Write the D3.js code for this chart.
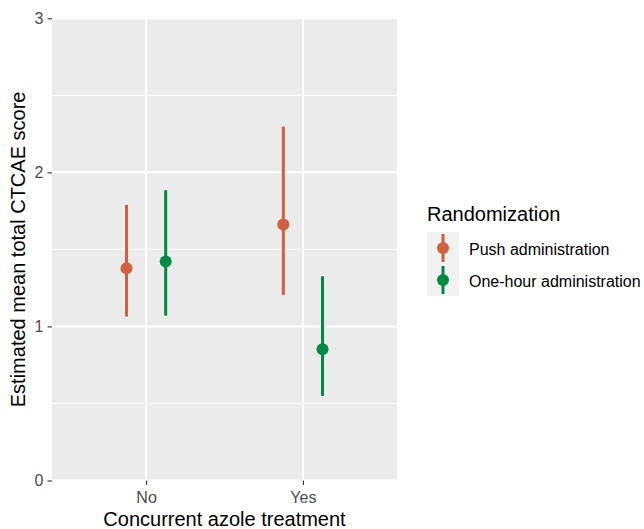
<!DOCTYPE html>
<html>
<head>
<meta charset="utf-8">
<script src="https://cdn.jsdelivr.net/npm/d3@7"></script>
<style>
  body { margin: 0; background: #fff; }
  text { font-family: Arial, "Liberation Sans", sans-serif; }
</style>
</head>
<body>
<svg id="chart" width="644" height="529"></svg>
<script>
// data
var groups = ["No", "Yes"];
var arms = ["Push administration", "One-hour administration"];
var armColors = ["#D0603F", "#008A42"];
var estimates = [1.378, 1.421, 1.661, 0.852];   // No/Push, No/One-hour, Yes/Push, Yes/One-hour
var lower = [1.064, 1.070, 1.205, 0.549];
var upper = [1.789, 1.884, 2.297, 1.326];
var yTicks = [0, 1, 2, 3];
var yMinor = [0.5, 1.5, 2.5];

var rows = [];
groups.forEach(function(g, gi){
    arms.forEach(function(a, ai){
	var k = gi * arms.length + ai;
	rows.push({group: g, arm: a, est: estimates[k], lo: lower[k], hi: upper[k]});
    });
});

var svg = d3.select("#chart");
var panel = {left: 52, top: 18.3, right: 397, bottom: 480.5};

var y = d3.scaleLinear().domain([0, 3]).range([panel.bottom, panel.top]);
// discrete axis with ggplot style 0.6 expansion
var xc = d3.scalePoint().domain(groups).range([panel.left, panel.right]).padding(0.6);
var step = xc.step();
var dodge = d3.scalePoint().domain(arms).range([-0.125 * step, 0.125 * step]);
var color = d3.scaleOrdinal().domain(arms).range(armColors);

// panel background
svg.append("rect")
    .attr("x", panel.left).attr("y", panel.top)
    .attr("width", panel.right - panel.left).attr("height", panel.bottom - panel.top)
    .attr("fill", "#EBEBEB");

var grid = svg.append("g");
grid.selectAll(".minor").data(yMinor).enter().append("line")
    .attr("x1", panel.left).attr("x2", panel.right)
    .attr("y1", function(d){ return y(d); }).attr("y2", function(d){ return y(d); })
    .attr("stroke", "#fff").attr("stroke-width", 1);
grid.selectAll(".major").data(yTicks).enter().append("line")
    .attr("x1", panel.left).attr("x2", panel.right)
    .attr("y1", function(d){ return y(d); }).attr("y2", function(d){ return y(d); })
    .attr("stroke", "#fff").attr("stroke-width", 2);
grid.selectAll(".vmajor").data(groups).enter().append("line")
    .attr("x1", function(d){ return xc(d); }).attr("x2", function(d){ return xc(d); })
    .attr("y1", panel.top).attr("y2", panel.bottom)
    .attr("stroke", "#fff").attr("stroke-width", 2);

// axes
var yAxis = d3.axisLeft(y).tickValues(yTicks).tickFormat(d3.format("d")).tickSize(4.5).tickPadding(4);
var gy = svg.append("g").attr("transform", "translate(" + panel.left + ",0)").call(yAxis);
var xAxis = d3.axisBottom(xc).tickSize(4.5).tickPadding(3);
var gx = svg.append("g").attr("transform", "translate(0," + panel.bottom + ")").call(xAxis);
[gx, gy].forEach(function(g){
    g.select(".domain").remove();
    g.selectAll(".tick line").attr("stroke", "#333").attr("stroke-width", 1.1);
    g.selectAll(".tick text").attr("fill", "#4D4D4D").style("font-size", "16px")
	.style("font-family", "Arial, 'Liberation Sans', sans-serif");
});
gx.selectAll(".tick text").attr("dy", "0.95em");

// axis titles
svg.append("text")
    .attr("x", (panel.left + panel.right) / 2).attr("y", 526)
    .attr("text-anchor", "middle").style("font-size", "20px").attr("fill", "#000")
    .text("Concurrent azole treatment");
svg.append("text")
    .attr("transform", "translate(25," + ((panel.top + panel.bottom) / 2) + ") rotate(-90)")
    .attr("text-anchor", "middle").style("font-size", "20px").attr("fill", "#000")
    .text("Estimated mean total CTCAE score");

// error bars + points
var marks = svg.append("g");
var px = function(d){ return xc(d.group) + dodge(d.arm); };
marks.selectAll(".bar").data(rows).enter().append("line")
    .attr("x1", px).attr("x2", px)
    .attr("y1", function(d){ return y(d.lo); }).attr("y2", function(d){ return y(d.hi); })
    .attr("stroke", function(d){ return color(d.arm); }).attr("stroke-width", 3);
marks.selectAll(".pt").data(rows).enter().append("circle")
    .attr("cx", px).attr("cy", function(d){ return y(d.est); }).attr("r", 6)
    .attr("fill", function(d){ return color(d.arm); });

// legend
var leg = svg.append("g").attr("transform", "translate(427,0)");
leg.append("text").attr("x", 0).attr("y", 221)
    .style("font-size", "20px").attr("fill", "#000").text("Randomization");
var keyH = 32, keyW = 32, keyTop = 232;
var keys = leg.selectAll(".key").data(arms).enter().append("g")
    .attr("transform", function(d, i){ return "translate(0," + (keyTop + i * keyH) + ")"; });
keys.append("rect").attr("width", keyW).attr("height", keyH).attr("fill", "#F2F2F2");
keys.append("line")
    .attr("x1", keyW / 2).attr("x2", keyW / 2).attr("y1", 2).attr("y2", keyH - 2)
    .attr("stroke", function(d){ return color(d); }).attr("stroke-width", 3);
keys.append("circle").attr("cx", keyW / 2).attr("cy", keyH / 2).attr("r", 6)
    .attr("fill", function(d){ return color(d); });
keys.append("text").attr("x", keyW + 10).attr("y", keyH / 2 + 6.5)
    .style("font-size", "16px").attr("fill", "#000").text(function(d){ return d; });
</script>
</body>
</html>
